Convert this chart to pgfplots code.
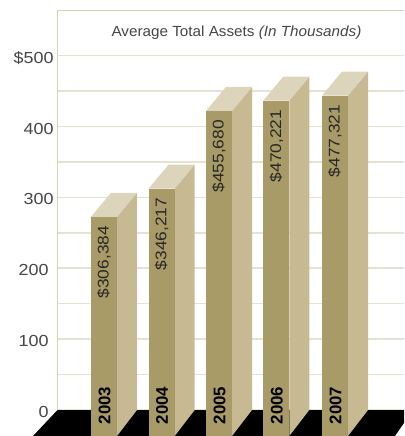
\documentclass[border=0pt]{standalone}
\usepackage{fontspec}
\usepackage{pgfplots}
\pgfplotsset{compat=1.18}
\setmainfont{Liberation Sans}
\newfontfamily\tickfont[FakeStretch=1.12]{Liberation Sans}
\newfontfamily\titlefont[FakeStretch=1.04]{Liberation Sans}
\definecolor{barfront}{HTML}{A89B68}
\definecolor{barside}{HTML}{C7BA92}
\definecolor{bartop}{HTML}{DDD4BC}
\definecolor{framecol}{HTML}{D8D2B4}
\definecolor{gridmajor}{HTML}{E6E2D2}
\definecolor{gridfive}{HTML}{DDD6B8}
\definecolor{textgrey}{HTML}{454545}
% One extruded column: left edge of the front face, value, year, printed value
\newcommand{\threedbar}[4]{%
  \pgfmathsetmacro\xa{#1}\pgfmathsetmacro\xb{#1+26}%
  \pgfmathsetmacro\xc{#1+20}\pgfmathsetmacro\xd{#1+46}%
  \pgfmathsetmacro\vf{#2-33.85}%
  \edef\drawfaces{%
    \noexpand\addplot[fill=barside,draw=none] coordinates {(\xb,-36.67) (\xd,0) (\xd,#2) (\xb,\vf)};
    \noexpand\addplot[fill=bartop,draw=none] coordinates {(\xa,\vf) (\xb,\vf) (\xd,#2) (\xc,#2)};
    \noexpand\addplot[fill=barfront,draw=none] coordinates {(\xa,-36.67) (\xb,-36.67) (\xb,\vf) (\xa,\vf)};
  }\drawfaces
  \node[rotate=90,anchor=east,inner sep=0pt,text=black!85,font=\tickfont\fontsize{11.6}{13}\selectfont]
    at (axis cs:#1+13,{#2-46.5}) {\$#4};
  \node[rotate=90,anchor=center,inner sep=0pt,text=black,font=\bfseries\fontsize{12.6}{14}\selectfont]
    at (axis cs:#1+13.5,6.5) {#3};
}
\begin{document}
\begin{tikzpicture}[x=1pt,y=1pt]
  \path[use as bounding box] (-43.125pt,-19.5pt) rectangle (259.875pt,307.5pt);
  \begin{axis}[
    at={(0pt,0pt)},anchor=south west,
    scale only axis,
    width=259.875pt,height=299.625pt,
    xmin=57.5,xmax=404,ymin=0,ymax=563.5,
    clip=false,
    axis x line*=top,axis y line*=left,
    axis line style={-,draw=framecol,line width=1.2pt},
    xtick=\empty,
    ytick={0,100,200,300,400},
    yticklabels={{0\kern3.75pt},{100\kern3.75pt},{200\kern3.75pt},300,400},
    extra y ticks={500},
    extra y tick labels={\$500},
    extra y tick style={grid style={draw=gridfive,line width=1.2pt}},
    minor ytick={50,150,250,350,450},
    ymajorgrids,yminorgrids,
    major grid style={draw=gridmajor,line width=1.2pt},
    minor grid style={draw=gridmajor,line width=1.2pt},
    major tick length=0pt,minor tick length=0pt,
    tick style={draw=none},
    yticklabel style={anchor=east,xshift=-2.8pt,yshift=-1.6pt,inner sep=0pt,text=textgrey,
      font=\tickfont\fontsize{12}{14}\selectfont},
  ]
    % black floor
    \addplot[fill=black,draw=none] coordinates {(33,-36.67) (57.5,0) (404,0) (404,-18.3) (395,-36.67)};
    \threedbar{91}{306.384}{2003}{306,384}
    \threedbar{148.7}{346.217}{2004}{346,217}
    \threedbar{206}{455.680}{2005}{455,680}
    \threedbar{263.3}{470.221}{2006}{470,221}
    \threedbar{322}{477.321}{2007}{477,321}
    \node[anchor=center,inner sep=0pt,text=textgrey,font=\titlefont\fontsize{11}{13}\selectfont]
      at (axis cs:236.5,531.7) {Average Total Assets \textit{(In Thousands)}};
  \end{axis}
\end{tikzpicture}
\end{document}
